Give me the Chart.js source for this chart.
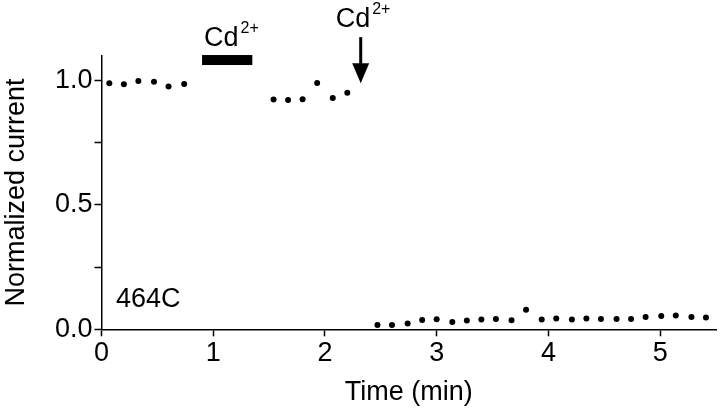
<!DOCTYPE html>
<html>
<head>
<meta charset="utf-8">
<script src="https://cdn.jsdelivr.net/npm/chart.js@4.4.1/dist/chart.umd.min.js"></script>
<style>
  html, body { margin: 0; padding: 0; background: #fff; }
  #wrap { width: 720px; height: 415px; }
</style>
</head>
<body>
<div id="wrap"><canvas id="cdChart"></canvas></div>
<script>
// control, before Cd2+
const timeControl = [0.07, 0.20, 0.33, 0.47, 0.60, 0.74];
const currentControl = [0.990, 0.986, 0.999, 0.996, 0.977, 0.987];

// washout after the first Cd2+ application
const timeWash = [1.54, 1.67, 1.80, 1.93, 2.07, 2.20];
const currentWash = [0.924, 0.922, 0.925, 0.991, 0.930, 0.951];

// after the second Cd2+ application
const timeBlock = [2.47, 2.60, 2.74, 2.87, 3.00, 3.14, 3.27, 3.40, 3.53, 3.67, 3.80, 3.94,
                   4.07, 4.21, 4.34, 4.47, 4.61, 4.74, 4.87, 5.01, 5.14, 5.28, 5.41];
const currentBlock = [0.017, 0.017, 0.023, 0.037, 0.040, 0.029, 0.035, 0.039, 0.041, 0.036, 0.079, 0.039,
                      0.043, 0.039, 0.043, 0.041, 0.041, 0.041, 0.049, 0.053, 0.056, 0.049, 0.047];

const xTicks = [0, 1, 2, 3, 4, 5];
const xTickLabels = ['0', '1', '2', '3', '4', '5'];
const yTicks = [0, 0.25, 0.5, 0.75, 1.0];
const yTickLabels = ['0.0', '', '0.5', '', '1.0'];

const FONT = '"Liberation Sans", Arial, Helvetica, sans-serif';
const FSIZE = 27;

function toPoints(xs, ys) {
    return xs.map((t, i) => ({ x: t, y: ys[i] }));
}

function drawCd(ctx, left, baseline) {
    ctx.font = FSIZE + 'px ' + FONT;
    ctx.textBaseline = 'alphabetic';
    ctx.textAlign = 'left';
    ctx.fillText('Cd', left, baseline);
    const w = ctx.measureText('Cd').width;
    ctx.font = '16px ' + FONT;
    ctx.fillText('2+', left + w + 2, baseline - 13);
}

const cdAnnotations = {
    id: 'cdAnnotations',
    afterDraw(chart) {
        const { ctx, scales: { x, y } } = chart;
        ctx.save();
        ctx.fillStyle = '#000';

        // bar: Cd2+ in the bath
        const bx0 = x.getPixelForValue(0.9);
        const bx1 = x.getPixelForValue(1.35);
        const by = y.getPixelForValue(1.083);
        ctx.fillRect(bx0, by - 5, bx1 - bx0, 10);
        drawCd(ctx, bx0 + 2, by - 14.5);

        // arrow: second application
        const ax = x.getPixelForValue(2.32);
        const ay = y.getPixelForValue(0.99);
        ctx.fillRect(ax - 1.5, ay - 46, 3, 28);
        ctx.beginPath();
        ctx.moveTo(ax - 8.5, ay - 20);
        ctx.lineTo(ax + 8.5, ay - 20);
        ctx.lineTo(ax, ay);
        ctx.closePath();
        ctx.fill();
        drawCd(ctx, ax - 25, ay - 56);

        // mutant label
        ctx.font = FSIZE + 'px ' + FONT;
        ctx.fillText('464C', x.getPixelForValue(0.13), y.getPixelForValue(0.088));
        ctx.restore();
    },
};

const dotStyle = {
    showLine: false,
    pointRadius: 3,
    pointBackgroundColor: '#000',
    pointBorderWidth: 0,
};

new Chart(document.getElementById('cdChart'), {
    type: 'scatter',
    data: {
        datasets: [
            { label: 'control', data: toPoints(timeControl, currentControl), ...dotStyle },
            { label: 'wash', data: toPoints(timeWash, currentWash), ...dotStyle },
            { label: 'Cd2+', data: toPoints(timeBlock, currentBlock), ...dotStyle },
        ],
    },
    options: {
        responsive: true,
        maintainAspectRatio: false,
        animation: false,
        layout: { padding: { top: 55.8, right: 1.4, left: 0, bottom: 0 } },
        plugins: {
            legend: { display: false },
            tooltip: { enabled: false },
        },
        scales: {
            x: {
                type: 'linear',
                min: 0,
                max: 5.5,
                afterBuildTicks: (s) => { s.ticks = xTicks.map((v) => ({ value: v })); },
                afterFit: (s) => { s.height = 85.7; },
                border: { color: '#000', width: 1.5 },
                grid: { drawOnChartArea: false, tickLength: 7, tickColor: '#000', tickWidth: 1.5 },
                ticks: {
                    color: '#000',
                    font: { family: FONT, size: FSIZE },
                    padding: 1,
                    maxRotation: 0,
                    callback: (v, i) => xTickLabels[i],
                },
                title: {
                    display: true,
                    text: 'Time (min)',
                    color: '#000',
                    font: { family: FONT, size: FSIZE },
                    padding: { top: 0, bottom: 6 },
                },
            },
            y: {
                min: 0,
                max: 1.1,
                afterBuildTicks: (s) => { s.ticks = yTicks.map((v) => ({ value: v })); },
                afterFit: (s) => { s.width = 101.5; },
                border: { color: '#000', width: 1.5 },
                grid: { drawOnChartArea: false, tickLength: 7, tickColor: '#000', tickWidth: 1.5 },
                ticks: {
                    color: '#000',
                    font: { family: FONT, size: FSIZE },
                    padding: 2,
                    callback: (v, i) => yTickLabels[i],
                },
                title: {
                    display: true,
                    text: 'Normalized current',
                    color: '#000',
                    font: { family: FONT, size: FSIZE },
                    padding: { top: 0, bottom: 0 },
                },
            },
        },
    },
    plugins: [cdAnnotations],
});
</script>
</body>
</html>
